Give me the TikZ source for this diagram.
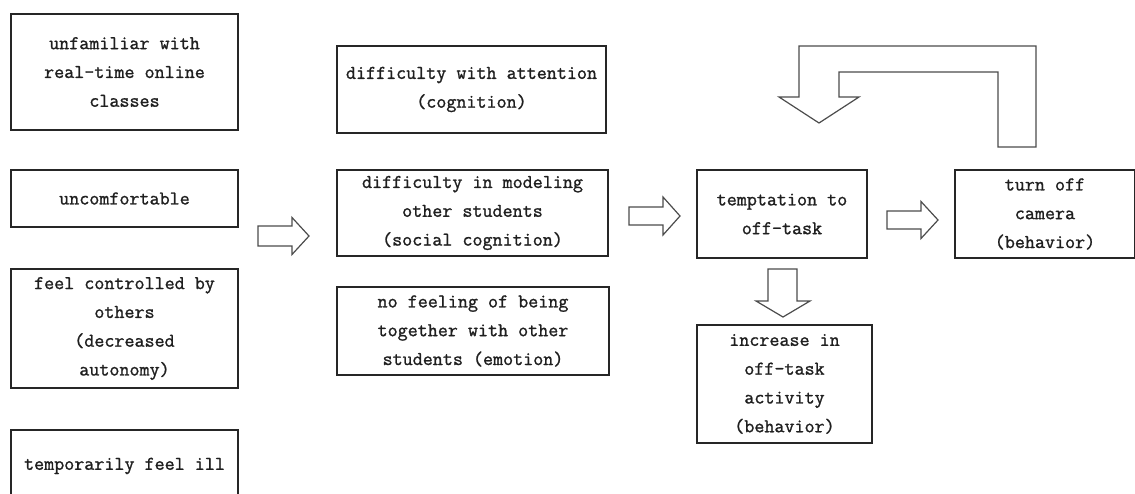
\documentclass[tikz,border=0pt]{standalone}
\usepackage{fontspec}
\newfontfamily\boxfont[FakeBold=1.2]{Latin Modern Mono}
\begin{document}
\begin{tikzpicture}[x=1pt,y=-1pt,
  box/.style={draw=black!85, line width=1.3pt, inner sep=0pt, align=center,
    font=\boxfont\fontsize{19.5}{28.8}\selectfont, text=black!88},
  blk/.style={draw=black!70, line width=1.2pt, fill=white, line join=miter}]
\fill[white] (0,0) rectangle (1135,493);
\clip (0,0) rectangle (1135,493);
% left column
\node[box, minimum width=227pt, minimum height=116pt] (unf) at (124.5,72) {unfamiliar with\\real-time online\\classes};
\node[box, minimum width=227pt, minimum height=57pt] (unc) at (124.5,198.5) {uncomfortable};
\node[box, minimum width=227pt, minimum height=119pt] (ctl) at (124.5,328.5) {feel controlled by\\others\\(decreased\\autonomy)};
\node[box, minimum width=227pt, minimum height=72pt] (ill) at (124.5,466) {temporarily feel ill};
% middle column
\node[box, minimum width=269pt, minimum height=87pt] (att) at (471.5,89.5) {difficulty with attention\\(cognition)};
\node[box, minimum width=271pt, minimum height=86pt] (mod) at (472.5,213) {difficulty in modeling\\other students\\(social cognition)};
\node[box, minimum width=272pt, minimum height=88pt] (tog) at (473,331) {no feeling of being\\together with other\\students (emotion)};
% right part
\node[box, minimum width=170pt, minimum height=88pt] (tmp) at (782,214) {temptation to\\off-task};
\node[box, minimum width=180pt, minimum height=88pt] (cam) at (1045,214) {turn off\\camera\\(behavior)};
\node[box, minimum width=175pt, minimum height=118pt] (inc) at (784.5,384) {increase in\\off-task\\activity\\(behavior)};
% block arrows (right-pointing)
\newcommand{\blkright}[6]{%
  \draw[blk] (#1,#4-#5) -- (#2,#4-#5) -- (#2,#4-#6) -- (#3,#4) -- (#2,#4+#6) -- (#2,#4+#5) -- (#1,#4+#5) -- cycle;}
\blkright{258}{292}{309}{236}{10}{18.5}
\blkright{629}{663}{680}{216}{9}{19}
\blkright{887}{921}{938}{220}{9}{18.5}
% down arrow from temptation to increase
\draw[blk] (768,269) -- (797,269) -- (797,301) -- (810,301) -- (783,317) -- (756,301) -- (768,301) -- cycle;
% feedback U arrow from camera back to temptation
\draw[blk] (1036,147) -- (1036,46) -- (799,46) -- (799,97) -- (779,97) -- (819,123) -- (859,97) -- (839,97) -- (839,72) -- (998,72) -- (998,147) -- cycle;
\end{tikzpicture}
\end{document}
